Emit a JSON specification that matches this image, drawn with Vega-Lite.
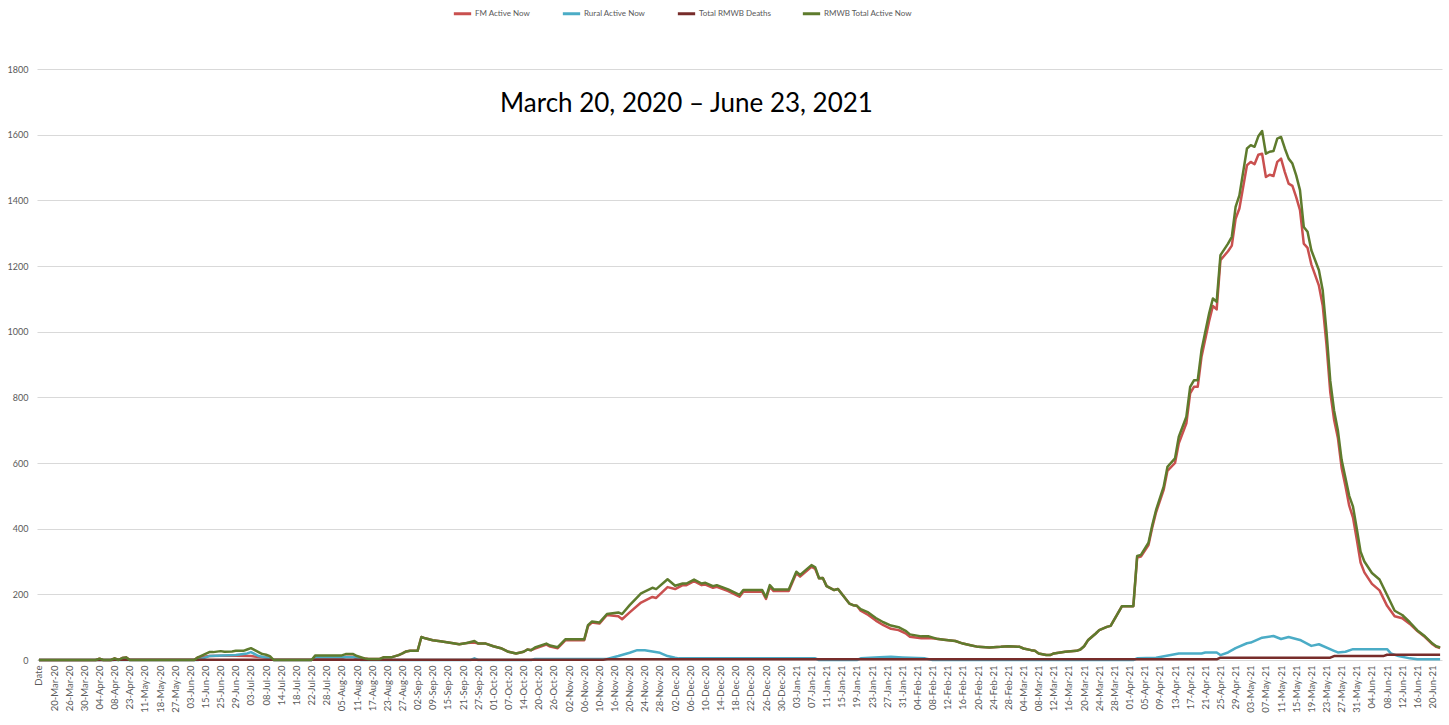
{
  "$schema": "https://vega.github.io/schema/vega-lite/v6.json",
  "width": 1405,
  "height": 591,
  "autosize": {"type": "none"},
  "padding": {"left": 37, "top": 69, "right": 7, "bottom": 65},
  "background": "white",
  "config": {"view": {"stroke": null}, "font": "Lato", "axis": {"labelOverlap": false}, "axisX": {"labelOverlap": false, "tickCount": 400}},
  "datasets": {
    "series": [
      {"i":0,"s":"FM Active Now","v":0},{"i":15,"s":"FM Active Now","v":0},{"i":16,"s":"FM Active Now","v":4},{"i":17,"s":"FM Active Now","v":0},{"i":19,"s":"FM Active Now","v":0},{"i":20,"s":"FM Active Now","v":5},{"i":21,"s":"FM Active Now","v":0},{"i":22,"s":"FM Active Now","v":6},{"i":23,"s":"FM Active Now","v":8},{"i":24,"s":"FM Active Now","v":0},{"i":41,"s":"FM Active Now","v":0},{"i":42,"s":"FM Active Now","v":8},{"i":45,"s":"FM Active Now","v":12},{"i":48,"s":"FM Active Now","v":13},{"i":52,"s":"FM Active Now","v":13},{"i":56,"s":"FM Active Now","v":12},{"i":59,"s":"FM Active Now","v":8},{"i":61,"s":"FM Active Now","v":7},{"i":62,"s":"FM Active Now","v":0},{"i":72,"s":"FM Active Now","v":0},{"i":73,"s":"FM Active Now","v":6},{"i":80,"s":"FM Active Now","v":6},{"i":81,"s":"FM Active Now","v":10},{"i":83,"s":"FM Active Now","v":10},{"i":84,"s":"FM Active Now","v":4},{"i":86,"s":"FM Active Now","v":5},{"i":87,"s":"FM Active Now","v":3},{"i":90,"s":"FM Active Now","v":3},{"i":91,"s":"FM Active Now","v":8},{"i":93,"s":"FM Active Now","v":8},{"i":95,"s":"FM Active Now","v":15},{"i":96,"s":"FM Active Now","v":20},{"i":97,"s":"FM Active Now","v":26},{"i":98,"s":"FM Active Now","v":28},{"i":100,"s":"FM Active Now","v":28},{"i":101,"s":"FM Active Now","v":70},{"i":102,"s":"FM Active Now","v":66},{"i":104,"s":"FM Active Now","v":60},{"i":106,"s":"FM Active Now","v":57},{"i":109,"s":"FM Active Now","v":52},{"i":111,"s":"FM Active Now","v":48},{"i":113,"s":"FM Active Now","v":52},{"i":115,"s":"FM Active Now","v":53},{"i":116,"s":"FM Active Now","v":50},{"i":118,"s":"FM Active Now","v":50},{"i":120,"s":"FM Active Now","v":42},{"i":122,"s":"FM Active Now","v":36},{"i":124,"s":"FM Active Now","v":25},{"i":126,"s":"FM Active Now","v":20},{"i":128,"s":"FM Active Now","v":25},{"i":129,"s":"FM Active Now","v":32},{"i":130,"s":"FM Active Now","v":30},{"i":131,"s":"FM Active Now","v":35},{"i":134,"s":"FM Active Now","v":47},{"i":135,"s":"FM Active Now","v":41},{"i":137,"s":"FM Active Now","v":36},{"i":139,"s":"FM Active Now","v":60},{"i":144,"s":"FM Active Now","v":60},{"i":145,"s":"FM Active Now","v":103},{"i":146,"s":"FM Active Now","v":114},{"i":148,"s":"FM Active Now","v":111},{"i":150,"s":"FM Active Now","v":137},{"i":153,"s":"FM Active Now","v":133},{"i":154,"s":"FM Active Now","v":124},{"i":156,"s":"FM Active Now","v":145},{"i":159,"s":"FM Active Now","v":175},{"i":162,"s":"FM Active Now","v":192},{"i":163,"s":"FM Active Now","v":189},{"i":166,"s":"FM Active Now","v":222},{"i":168,"s":"FM Active Now","v":216},{"i":170,"s":"FM Active Now","v":228},{"i":171,"s":"FM Active Now","v":228},{"i":173,"s":"FM Active Now","v":240},{"i":175,"s":"FM Active Now","v":228},{"i":176,"s":"FM Active Now","v":230},{"i":178,"s":"FM Active Now","v":220},{"i":179,"s":"FM Active Now","v":223},{"i":182,"s":"FM Active Now","v":210},{"i":185,"s":"FM Active Now","v":193},{"i":186,"s":"FM Active Now","v":208},{"i":191,"s":"FM Active Now","v":208},{"i":192,"s":"FM Active Now","v":186},{"i":193,"s":"FM Active Now","v":223},{"i":194,"s":"FM Active Now","v":210},{"i":198,"s":"FM Active Now","v":210},{"i":200,"s":"FM Active Now","v":264},{"i":201,"s":"FM Active Now","v":254},{"i":202,"s":"FM Active Now","v":264},{"i":204,"s":"FM Active Now","v":284},{"i":205,"s":"FM Active Now","v":277},{"i":206,"s":"FM Active Now","v":249},{"i":207,"s":"FM Active Now","v":250},{"i":208,"s":"FM Active Now","v":225},{"i":210,"s":"FM Active Now","v":213},{"i":211,"s":"FM Active Now","v":216},{"i":214,"s":"FM Active Now","v":172},{"i":215,"s":"FM Active Now","v":167},{"i":216,"s":"FM Active Now","v":165},{"i":217,"s":"FM Active Now","v":150},{"i":219,"s":"FM Active Now","v":137},{"i":221,"s":"FM Active Now","v":120},{"i":223,"s":"FM Active Now","v":106},{"i":225,"s":"FM Active Now","v":95},{"i":227,"s":"FM Active Now","v":91},{"i":229,"s":"FM Active Now","v":80},{"i":230,"s":"FM Active Now","v":71},{"i":233,"s":"FM Active Now","v":66},{"i":235,"s":"FM Active Now","v":67},{"i":237,"s":"FM Active Now","v":65},{"i":239,"s":"FM Active Now","v":62},{"i":242,"s":"FM Active Now","v":58},{"i":244,"s":"FM Active Now","v":50},{"i":246,"s":"FM Active Now","v":45},{"i":248,"s":"FM Active Now","v":40},{"i":251,"s":"FM Active Now","v":38},{"i":254,"s":"FM Active Now","v":40},{"i":256,"s":"FM Active Now","v":42},{"i":259,"s":"FM Active Now","v":40},{"i":260,"s":"FM Active Now","v":35},{"i":262,"s":"FM Active Now","v":30},{"i":263,"s":"FM Active Now","v":28},{"i":264,"s":"FM Active Now","v":20},{"i":266,"s":"FM Active Now","v":15},{"i":267,"s":"FM Active Now","v":15},{"i":268,"s":"FM Active Now","v":20},{"i":271,"s":"FM Active Now","v":25},{"i":274,"s":"FM Active Now","v":28},{"i":275,"s":"FM Active Now","v":32},{"i":276,"s":"FM Active Now","v":42},{"i":277,"s":"FM Active Now","v":60},{"i":279,"s":"FM Active Now","v":80},{"i":280,"s":"FM Active Now","v":91},{"i":282,"s":"FM Active Now","v":101},{"i":283,"s":"FM Active Now","v":104},{"i":286,"s":"FM Active Now","v":164},{"i":289,"s":"FM Active Now","v":164},{"i":290,"s":"FM Active Now","v":312},{"i":291,"s":"FM Active Now","v":315},{"i":293,"s":"FM Active Now","v":350},{"i":294,"s":"FM Active Now","v":404},{"i":295,"s":"FM Active Now","v":450},{"i":297,"s":"FM Active Now","v":518},{"i":298,"s":"FM Active Now","v":576},{"i":300,"s":"FM Active Now","v":600},{"i":301,"s":"FM Active Now","v":660},{"i":303,"s":"FM Active Now","v":721},{"i":304,"s":"FM Active Now","v":812},{"i":305,"s":"FM Active Now","v":832},{"i":306,"s":"FM Active Now","v":832},{"i":307,"s":"FM Active Now","v":924},{"i":309,"s":"FM Active Now","v":1032},{"i":310,"s":"FM Active Now","v":1078},{"i":311,"s":"FM Active Now","v":1068},{"i":312,"s":"FM Active Now","v":1218},{"i":314,"s":"FM Active Now","v":1245},{"i":315,"s":"FM Active Now","v":1262},{"i":316,"s":"FM Active Now","v":1344},{"i":317,"s":"FM Active Now","v":1375},{"i":319,"s":"FM Active Now","v":1507},{"i":320,"s":"FM Active Now","v":1517},{"i":321,"s":"FM Active Now","v":1510},{"i":322,"s":"FM Active Now","v":1539},{"i":323,"s":"FM Active Now","v":1542},{"i":324,"s":"FM Active Now","v":1471},{"i":325,"s":"FM Active Now","v":1478},{"i":326,"s":"FM Active Now","v":1474},{"i":327,"s":"FM Active Now","v":1517},{"i":328,"s":"FM Active Now","v":1527},{"i":329,"s":"FM Active Now","v":1486},{"i":330,"s":"FM Active Now","v":1451},{"i":331,"s":"FM Active Now","v":1444},{"i":332,"s":"FM Active Now","v":1410},{"i":333,"s":"FM Active Now","v":1370},{"i":334,"s":"FM Active Now","v":1268},{"i":335,"s":"FM Active Now","v":1255},{"i":336,"s":"FM Active Now","v":1205},{"i":338,"s":"FM Active Now","v":1140},{"i":339,"s":"FM Active Now","v":1080},{"i":340,"s":"FM Active Now","v":960},{"i":341,"s":"FM Active Now","v":815},{"i":342,"s":"FM Active Now","v":732},{"i":343,"s":"FM Active Now","v":677},{"i":344,"s":"FM Active Now","v":585},{"i":345,"s":"FM Active Now","v":530},{"i":346,"s":"FM Active Now","v":470},{"i":347,"s":"FM Active Now","v":434},{"i":348,"s":"FM Active Now","v":367},{"i":349,"s":"FM Active Now","v":297},{"i":350,"s":"FM Active Now","v":267},{"i":352,"s":"FM Active Now","v":232},{"i":354,"s":"FM Active Now","v":212},{"i":356,"s":"FM Active Now","v":165},{"i":358,"s":"FM Active Now","v":133},{"i":360,"s":"FM Active Now","v":127},{"i":362,"s":"FM Active Now","v":110},{"i":364,"s":"FM Active Now","v":88},{"i":366,"s":"FM Active Now","v":70},{"i":368,"s":"FM Active Now","v":48},{"i":369,"s":"FM Active Now","v":40},{"i":370,"s":"FM Active Now","v":36},

      {"i":0,"s":"Rural Active Now","v":0},{"i":42,"s":"Rural Active Now","v":0},{"i":45,"s":"Rural Active Now","v":12},{"i":52,"s":"Rural Active Now","v":15},{"i":55,"s":"Rural Active Now","v":20},{"i":56,"s":"Rural Active Now","v":24},{"i":58,"s":"Rural Active Now","v":12},{"i":61,"s":"Rural Active Now","v":5},{"i":62,"s":"Rural Active Now","v":0},{"i":72,"s":"Rural Active Now","v":0},{"i":73,"s":"Rural Active Now","v":8},{"i":84,"s":"Rural Active Now","v":8},{"i":85,"s":"Rural Active Now","v":0},{"i":114,"s":"Rural Active Now","v":0},{"i":115,"s":"Rural Active Now","v":5},{"i":116,"s":"Rural Active Now","v":0},{"i":130,"s":"Rural Active Now","v":0},{"i":131,"s":"Rural Active Now","v":3},{"i":150,"s":"Rural Active Now","v":3},{"i":153,"s":"Rural Active Now","v":12},{"i":156,"s":"Rural Active Now","v":22},{"i":158,"s":"Rural Active Now","v":30},{"i":160,"s":"Rural Active Now","v":30},{"i":164,"s":"Rural Active Now","v":22},{"i":166,"s":"Rural Active Now","v":12},{"i":168,"s":"Rural Active Now","v":7},{"i":169,"s":"Rural Active Now","v":5},{"i":205,"s":"Rural Active Now","v":5},{"i":206,"s":"Rural Active Now","v":0},{"i":216,"s":"Rural Active Now","v":0},{"i":217,"s":"Rural Active Now","v":5},{"i":222,"s":"Rural Active Now","v":8},{"i":225,"s":"Rural Active Now","v":10},{"i":228,"s":"Rural Active Now","v":8},{"i":234,"s":"Rural Active Now","v":5},{"i":236,"s":"Rural Active Now","v":0},{"i":289,"s":"Rural Active Now","v":0},{"i":290,"s":"Rural Active Now","v":5},{"i":295,"s":"Rural Active Now","v":7},{"i":301,"s":"Rural Active Now","v":20},{"i":307,"s":"Rural Active Now","v":20},{"i":308,"s":"Rural Active Now","v":23},{"i":311,"s":"Rural Active Now","v":23},{"i":312,"s":"Rural Active Now","v":15},{"i":314,"s":"Rural Active Now","v":23},{"i":316,"s":"Rural Active Now","v":36},{"i":319,"s":"Rural Active Now","v":51},{"i":320,"s":"Rural Active Now","v":53},{"i":323,"s":"Rural Active Now","v":68},{"i":326,"s":"Rural Active Now","v":73},{"i":328,"s":"Rural Active Now","v":64},{"i":330,"s":"Rural Active Now","v":70},{"i":333,"s":"Rural Active Now","v":61},{"i":336,"s":"Rural Active Now","v":43},{"i":338,"s":"Rural Active Now","v":48},{"i":342,"s":"Rural Active Now","v":28},{"i":343,"s":"Rural Active Now","v":23},{"i":345,"s":"Rural Active Now","v":25},{"i":347,"s":"Rural Active Now","v":33},{"i":356,"s":"Rural Active Now","v":33},{"i":357,"s":"Rural Active Now","v":20},{"i":359,"s":"Rural Active Now","v":12},{"i":362,"s":"Rural Active Now","v":5},{"i":364,"s":"Rural Active Now","v":2},{"i":370,"s":"Rural Active Now","v":2},

      {"i":0,"s":"Total RMWB Deaths","v":0},{"i":19,"s":"Total RMWB Deaths","v":0},{"i":20,"s":"Total RMWB Deaths","v":1},{"i":149,"s":"Total RMWB Deaths","v":1},{"i":150,"s":"Total RMWB Deaths","v":2},{"i":311,"s":"Total RMWB Deaths","v":2},{"i":312,"s":"Total RMWB Deaths","v":7},{"i":341,"s":"Total RMWB Deaths","v":7},{"i":342,"s":"Total RMWB Deaths","v":12},{"i":355,"s":"Total RMWB Deaths","v":12},{"i":356,"s":"Total RMWB Deaths","v":16},{"i":370,"s":"Total RMWB Deaths","v":16},

      {"i":0,"s":"RMWB Total Active Now","v":0},{"i":15,"s":"RMWB Total Active Now","v":0},{"i":16,"s":"RMWB Total Active Now","v":4},{"i":17,"s":"RMWB Total Active Now","v":0},{"i":19,"s":"RMWB Total Active Now","v":0},{"i":20,"s":"RMWB Total Active Now","v":5},{"i":21,"s":"RMWB Total Active Now","v":0},{"i":22,"s":"RMWB Total Active Now","v":6},{"i":23,"s":"RMWB Total Active Now","v":8},{"i":24,"s":"RMWB Total Active Now","v":0},{"i":41,"s":"RMWB Total Active Now","v":0},{"i":42,"s":"RMWB Total Active Now","v":8},{"i":45,"s":"RMWB Total Active Now","v":24},{"i":46,"s":"RMWB Total Active Now","v":24},{"i":48,"s":"RMWB Total Active Now","v":27},{"i":49,"s":"RMWB Total Active Now","v":25},{"i":51,"s":"RMWB Total Active Now","v":26},{"i":52,"s":"RMWB Total Active Now","v":28},{"i":54,"s":"RMWB Total Active Now","v":28},{"i":55,"s":"RMWB Total Active Now","v":32},{"i":56,"s":"RMWB Total Active Now","v":36},{"i":57,"s":"RMWB Total Active Now","v":30},{"i":59,"s":"RMWB Total Active Now","v":18},{"i":60,"s":"RMWB Total Active Now","v":16},{"i":61,"s":"RMWB Total Active Now","v":12},{"i":62,"s":"RMWB Total Active Now","v":0},{"i":72,"s":"RMWB Total Active Now","v":0},{"i":73,"s":"RMWB Total Active Now","v":14},{"i":80,"s":"RMWB Total Active Now","v":14},{"i":81,"s":"RMWB Total Active Now","v":18},{"i":83,"s":"RMWB Total Active Now","v":18},{"i":84,"s":"RMWB Total Active Now","v":12},{"i":86,"s":"RMWB Total Active Now","v":5},{"i":87,"s":"RMWB Total Active Now","v":3},{"i":90,"s":"RMWB Total Active Now","v":3},{"i":91,"s":"RMWB Total Active Now","v":8},{"i":93,"s":"RMWB Total Active Now","v":8},{"i":95,"s":"RMWB Total Active Now","v":15},{"i":96,"s":"RMWB Total Active Now","v":20},{"i":97,"s":"RMWB Total Active Now","v":26},{"i":98,"s":"RMWB Total Active Now","v":28},{"i":100,"s":"RMWB Total Active Now","v":28},{"i":101,"s":"RMWB Total Active Now","v":70},{"i":102,"s":"RMWB Total Active Now","v":66},{"i":104,"s":"RMWB Total Active Now","v":60},{"i":106,"s":"RMWB Total Active Now","v":57},{"i":109,"s":"RMWB Total Active Now","v":52},{"i":111,"s":"RMWB Total Active Now","v":48},{"i":113,"s":"RMWB Total Active Now","v":52},{"i":115,"s":"RMWB Total Active Now","v":58},{"i":116,"s":"RMWB Total Active Now","v":50},{"i":118,"s":"RMWB Total Active Now","v":50},{"i":120,"s":"RMWB Total Active Now","v":42},{"i":122,"s":"RMWB Total Active Now","v":36},{"i":124,"s":"RMWB Total Active Now","v":25},{"i":126,"s":"RMWB Total Active Now","v":20},{"i":128,"s":"RMWB Total Active Now","v":25},{"i":129,"s":"RMWB Total Active Now","v":32},{"i":130,"s":"RMWB Total Active Now","v":30},{"i":131,"s":"RMWB Total Active Now","v":38},{"i":134,"s":"RMWB Total Active Now","v":50},{"i":135,"s":"RMWB Total Active Now","v":44},{"i":137,"s":"RMWB Total Active Now","v":39},{"i":139,"s":"RMWB Total Active Now","v":63},{"i":144,"s":"RMWB Total Active Now","v":63},{"i":145,"s":"RMWB Total Active Now","v":106},{"i":146,"s":"RMWB Total Active Now","v":117},{"i":148,"s":"RMWB Total Active Now","v":114},{"i":150,"s":"RMWB Total Active Now","v":140},{"i":153,"s":"RMWB Total Active Now","v":145},{"i":154,"s":"RMWB Total Active Now","v":140},{"i":156,"s":"RMWB Total Active Now","v":167},{"i":159,"s":"RMWB Total Active Now","v":203},{"i":162,"s":"RMWB Total Active Now","v":220},{"i":163,"s":"RMWB Total Active Now","v":216},{"i":166,"s":"RMWB Total Active Now","v":246},{"i":168,"s":"RMWB Total Active Now","v":226},{"i":170,"s":"RMWB Total Active Now","v":233},{"i":171,"s":"RMWB Total Active Now","v":233},{"i":173,"s":"RMWB Total Active Now","v":245},{"i":175,"s":"RMWB Total Active Now","v":233},{"i":176,"s":"RMWB Total Active Now","v":235},{"i":178,"s":"RMWB Total Active Now","v":225},{"i":179,"s":"RMWB Total Active Now","v":228},{"i":182,"s":"RMWB Total Active Now","v":215},{"i":185,"s":"RMWB Total Active Now","v":198},{"i":186,"s":"RMWB Total Active Now","v":213},{"i":191,"s":"RMWB Total Active Now","v":213},{"i":192,"s":"RMWB Total Active Now","v":191},{"i":193,"s":"RMWB Total Active Now","v":228},{"i":194,"s":"RMWB Total Active Now","v":215},{"i":198,"s":"RMWB Total Active Now","v":215},{"i":200,"s":"RMWB Total Active Now","v":269},{"i":201,"s":"RMWB Total Active Now","v":259},{"i":202,"s":"RMWB Total Active Now","v":269},{"i":204,"s":"RMWB Total Active Now","v":289},{"i":205,"s":"RMWB Total Active Now","v":282},{"i":206,"s":"RMWB Total Active Now","v":249},{"i":207,"s":"RMWB Total Active Now","v":250},{"i":208,"s":"RMWB Total Active Now","v":225},{"i":210,"s":"RMWB Total Active Now","v":213},{"i":211,"s":"RMWB Total Active Now","v":216},{"i":214,"s":"RMWB Total Active Now","v":172},{"i":215,"s":"RMWB Total Active Now","v":167},{"i":216,"s":"RMWB Total Active Now","v":165},{"i":217,"s":"RMWB Total Active Now","v":155},{"i":219,"s":"RMWB Total Active Now","v":145},{"i":221,"s":"RMWB Total Active Now","v":128},{"i":223,"s":"RMWB Total Active Now","v":115},{"i":225,"s":"RMWB Total Active Now","v":105},{"i":227,"s":"RMWB Total Active Now","v":100},{"i":229,"s":"RMWB Total Active Now","v":88},{"i":230,"s":"RMWB Total Active Now","v":78},{"i":233,"s":"RMWB Total Active Now","v":72},{"i":235,"s":"RMWB Total Active Now","v":72},{"i":237,"s":"RMWB Total Active Now","v":65},{"i":239,"s":"RMWB Total Active Now","v":62},{"i":242,"s":"RMWB Total Active Now","v":58},{"i":244,"s":"RMWB Total Active Now","v":50},{"i":246,"s":"RMWB Total Active Now","v":45},{"i":248,"s":"RMWB Total Active Now","v":40},{"i":251,"s":"RMWB Total Active Now","v":38},{"i":254,"s":"RMWB Total Active Now","v":40},{"i":256,"s":"RMWB Total Active Now","v":42},{"i":259,"s":"RMWB Total Active Now","v":40},{"i":260,"s":"RMWB Total Active Now","v":35},{"i":262,"s":"RMWB Total Active Now","v":30},{"i":263,"s":"RMWB Total Active Now","v":28},{"i":264,"s":"RMWB Total Active Now","v":20},{"i":266,"s":"RMWB Total Active Now","v":15},{"i":267,"s":"RMWB Total Active Now","v":15},{"i":268,"s":"RMWB Total Active Now","v":20},{"i":271,"s":"RMWB Total Active Now","v":25},{"i":274,"s":"RMWB Total Active Now","v":28},{"i":275,"s":"RMWB Total Active Now","v":32},{"i":276,"s":"RMWB Total Active Now","v":42},{"i":277,"s":"RMWB Total Active Now","v":60},{"i":279,"s":"RMWB Total Active Now","v":80},{"i":280,"s":"RMWB Total Active Now","v":91},{"i":282,"s":"RMWB Total Active Now","v":101},{"i":283,"s":"RMWB Total Active Now","v":104},{"i":286,"s":"RMWB Total Active Now","v":164},{"i":289,"s":"RMWB Total Active Now","v":164},{"i":290,"s":"RMWB Total Active Now","v":317},{"i":291,"s":"RMWB Total Active Now","v":320},{"i":293,"s":"RMWB Total Active Now","v":357},{"i":294,"s":"RMWB Total Active Now","v":411},{"i":295,"s":"RMWB Total Active Now","v":457},{"i":297,"s":"RMWB Total Active Now","v":528},{"i":298,"s":"RMWB Total Active Now","v":588},{"i":300,"s":"RMWB Total Active Now","v":614},{"i":301,"s":"RMWB Total Active Now","v":680},{"i":303,"s":"RMWB Total Active Now","v":741},{"i":304,"s":"RMWB Total Active Now","v":832},{"i":305,"s":"RMWB Total Active Now","v":852},{"i":306,"s":"RMWB Total Active Now","v":852},{"i":307,"s":"RMWB Total Active Now","v":944},{"i":309,"s":"RMWB Total Active Now","v":1055},{"i":310,"s":"RMWB Total Active Now","v":1101},{"i":311,"s":"RMWB Total Active Now","v":1091},{"i":312,"s":"RMWB Total Active Now","v":1233},{"i":314,"s":"RMWB Total Active Now","v":1268},{"i":315,"s":"RMWB Total Active Now","v":1289},{"i":316,"s":"RMWB Total Active Now","v":1380},{"i":317,"s":"RMWB Total Active Now","v":1415},{"i":319,"s":"RMWB Total Active Now","v":1558},{"i":320,"s":"RMWB Total Active Now","v":1568},{"i":321,"s":"RMWB Total Active Now","v":1563},{"i":322,"s":"RMWB Total Active Now","v":1595},{"i":323,"s":"RMWB Total Active Now","v":1611},{"i":324,"s":"RMWB Total Active Now","v":1542},{"i":325,"s":"RMWB Total Active Now","v":1548},{"i":326,"s":"RMWB Total Active Now","v":1550},{"i":327,"s":"RMWB Total Active Now","v":1588},{"i":328,"s":"RMWB Total Active Now","v":1593},{"i":329,"s":"RMWB Total Active Now","v":1558},{"i":330,"s":"RMWB Total Active Now","v":1527},{"i":331,"s":"RMWB Total Active Now","v":1512},{"i":332,"s":"RMWB Total Active Now","v":1476},{"i":333,"s":"RMWB Total Active Now","v":1431},{"i":334,"s":"RMWB Total Active Now","v":1319},{"i":335,"s":"RMWB Total Active Now","v":1304},{"i":336,"s":"RMWB Total Active Now","v":1248},{"i":338,"s":"RMWB Total Active Now","v":1187},{"i":339,"s":"RMWB Total Active Now","v":1126},{"i":340,"s":"RMWB Total Active Now","v":1000},{"i":341,"s":"RMWB Total Active Now","v":850},{"i":342,"s":"RMWB Total Active Now","v":760},{"i":343,"s":"RMWB Total Active Now","v":700},{"i":344,"s":"RMWB Total Active Now","v":609},{"i":345,"s":"RMWB Total Active Now","v":555},{"i":346,"s":"RMWB Total Active Now","v":500},{"i":347,"s":"RMWB Total Active Now","v":467},{"i":348,"s":"RMWB Total Active Now","v":400},{"i":349,"s":"RMWB Total Active Now","v":330},{"i":350,"s":"RMWB Total Active Now","v":300},{"i":352,"s":"RMWB Total Active Now","v":265},{"i":354,"s":"RMWB Total Active Now","v":245},{"i":356,"s":"RMWB Total Active Now","v":198},{"i":358,"s":"RMWB Total Active Now","v":150},{"i":360,"s":"RMWB Total Active Now","v":137},{"i":362,"s":"RMWB Total Active Now","v":115},{"i":364,"s":"RMWB Total Active Now","v":90},{"i":366,"s":"RMWB Total Active Now","v":72},{"i":368,"s":"RMWB Total Active Now","v":50},{"i":369,"s":"RMWB Total Active Now","v":42},{"i":370,"s":"RMWB Total Active Now","v":38}
    ],
    "caption": [{"t": "March 20, 2020 – June 23, 2021"}]
  },
  "layer": [
    {
      "data": {"name": "series"},
      "mark": {"type": "line", "strokeWidth": 2.5, "strokeJoin": "round"},
      "encoding": {
        "x": {
          "field": "i", "type": "quantitative",
          "scale": {"domain": [-0.5, 370.5], "nice": false, "zero": false},
          "axis": {
            "title": null, "grid": false, "domain": false, "ticks": false,
            "tickCount": 400,
            "values": [0,4,8,12,16,20,24,28,32,36,40,44,48,52,56,60,64,68,72,76,80,84,88,92,96,100,104,108,112,116,120,124,128,132,136,140,144,148,152,156,160,164,168,172,176,180,184,188,192,196,200,204,208,212,216,220,224,228,232,236,240,244,248,252,256,260,264,268,272,276,280,284,288,292,296,300,304,308,312,316,320,324,328,332,336,340,344,348,352,356,360,364,368],
            "labelExpr": "['Date','20-Mar-20','26-Mar-20','30-Mar-20','04-Apr-20','08-Apr-20','23-Apr-20','11-May-20','18-May-20','27-May-20','03-Jun-20','15-Jun-20','25-Jun-20','29-Jun-20','03-Jul-20','08-Jul-20','14-Jul-20','18-Jul-20','22-Jul-20','28-Jul-20','05-Aug-20','11-Aug-20','17-Aug-20','23-Aug-20','27-Aug-20','02-Sep-20','09-Sep-20','15-Sep-20','21-Sep-20','27-Sep-20','01-Oct-20','07-Oct-20','14-Oct-20','20-Oct-20','26-Oct-20','02-Nov-20','06-Nov-20','10-Nov-20','16-Nov-20','20-Nov-20','24-Nov-20','28-Nov-20','02-Dec-20','06-Dec-20','10-Dec-20','14-Dec-20','18-Dec-20','22-Dec-20','26-Dec-20','30-Dec-20','03-Jan-21','07-Jan-21','11-Jan-21','15-Jan-21','19-Jan-21','23-Jan-21','27-Jan-21','31-Jan-21','04-Feb-21','08-Feb-21','12-Feb-21','16-Feb-21','20-Feb-21','24-Feb-21','28-Feb-21','04-Mar-21','08-Mar-21','12-Mar-21','16-Mar-21','20-Mar-21','24-Mar-21','28-Mar-21','01-Apr-21','05-Apr-21','09-Apr-21','13-Apr-21','17-Apr-21','21-Apr-21','25-Apr-21','29-Apr-21','03-May-21','07-May-21','11-May-21','15-May-21','19-May-21','23-May-21','27-May-21','31-May-21','04-Jun-21','08-Jun-21','12-Jun-21','16-Jun-21','20-Jun-21'][round(datum.value/4)]",
            "labelAngle": 270, "labelAlign": "right", "labelBaseline": "middle",
            "labelFontSize": 9.5, "labelColor": "#595959", "labelPadding": 5,
            "labelOverlap": false, "labelFlush": false, "labelBound": false
          }
        },
        "y": {
          "field": "v", "type": "quantitative",
          "scale": {"domain": [0, 1800], "nice": false},
          "axis": {
            "title": null, "values": [0,200,400,600,800,1000,1200,1400,1600,1800],
            "format": "d",
            "grid": true, "gridColor": "#d9d9d9", "gridWidth": 1,
            "domain": false, "ticks": false, "labelPadding": 9,
            "labelFontSize": 9, "labelColor": "#595959"
          }
        },
        "color": {
          "field": "s", "type": "nominal",
          "scale": {
            "domain": ["FM Active Now", "Rural Active Now", "Total RMWB Deaths", "RMWB Total Active Now"],
            "range": ["#C9504F", "#4BACC6", "#772C2A", "#5E7B2D"]
          },
          "legend": {
            "title": null, "orient": "none", "direction": "horizontal",
            "legendX": 415, "legendY": -66,
            "symbolType": "stroke", "symbolSize": 300, "symbolStrokeWidth": 3,
            "labelFontSize": 8, "labelColor": "#595959", "labelOffset": 2,
            "columnPadding": 25
          }
        }
      }
    },
    {
      "data": {"name": "caption"},
      "mark": {"type": "text", "fontSize": 26, "font": "Lato", "color": "#000000", "align": "center", "baseline": "middle"},
      "encoding": {
        "x": {"datum": 171},
        "y": {"datum": 1692},
        "text": {"field": "t"}
      }
    }
  ]
}
